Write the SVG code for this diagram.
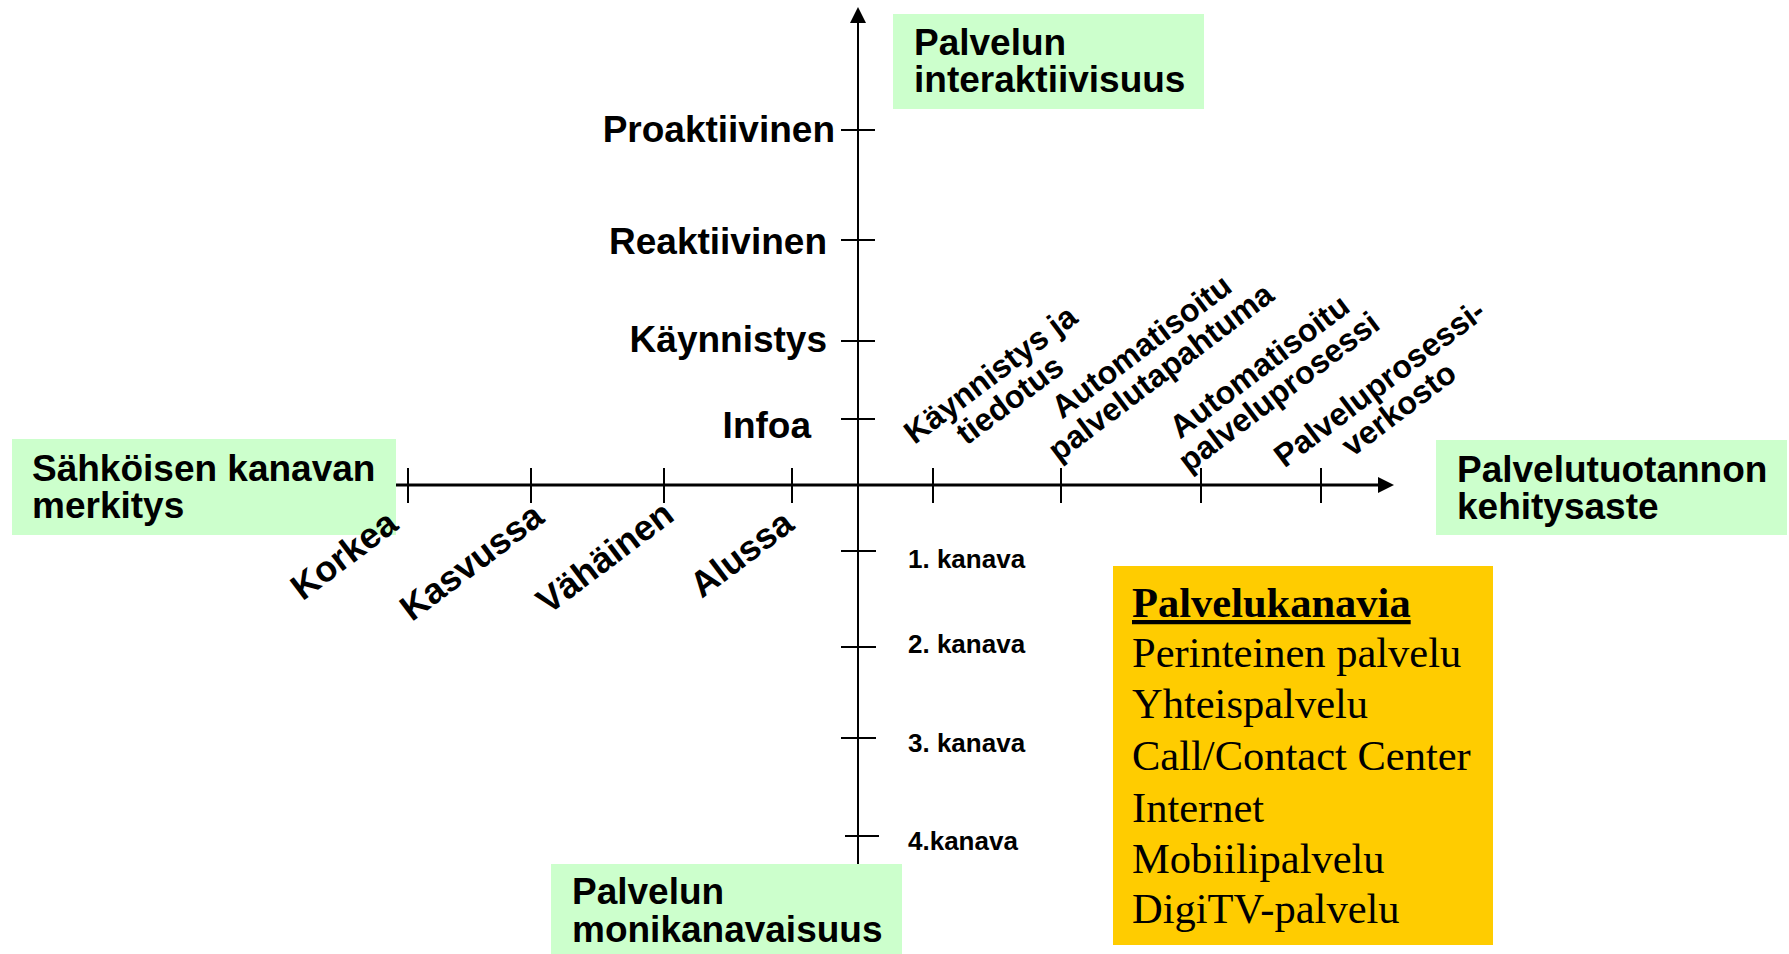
<svg xmlns="http://www.w3.org/2000/svg" width="1789" height="954" viewBox="0 0 1789 954">
<style>
.ax{stroke:#000;stroke-width:2;fill:none}
.hax{stroke:#000;stroke-width:3;fill:none}
.tk{stroke:#000;stroke-width:2}
.g{fill:#CCFFCC}
.y{fill:#FFCC00}
.b{font-family:"Liberation Sans",Arial,sans-serif;font-weight:bold;font-size:37px;fill:#000}
.r{font-family:"Liberation Sans",Arial,sans-serif;font-weight:bold;font-size:32px;fill:#000}
.k{font-family:"Liberation Sans",Arial,sans-serif;font-weight:bold;font-size:26px;fill:#000}
.t{font-family:"Liberation Serif","Times New Roman",serif;font-size:42.5px;fill:#000}
</style>
<defs>
<marker id="arr" viewBox="0 0 16 16" refX="0" refY="8" markerWidth="16" markerHeight="16" markerUnits="userSpaceOnUse" orient="auto">
<path d="M0,0 L16,8 L0,16 z" fill="#000"/>
</marker>
</defs>
<g id="connectors">
<line class="hax" x1="390" y1="485" x2="1378" y2="485" marker-end="url(#arr)"/>
<line class="ax" x1="858" y1="864" x2="858" y2="23" marker-end="url(#arr)"/>
<g id="ticks-x">
<line class="tk" x1="408" y1="468" x2="408" y2="503"/>
<line class="tk" x1="531" y1="468" x2="531" y2="503"/>
<line class="tk" x1="664" y1="468" x2="664" y2="503"/>
<line class="tk" x1="792" y1="468" x2="792" y2="503"/>
<line class="tk" x1="933" y1="468" x2="933" y2="503"/>
<line class="tk" x1="1061" y1="468" x2="1061" y2="503"/>
<line class="tk" x1="1201" y1="468" x2="1201" y2="503"/>
<line class="tk" x1="1321" y1="468" x2="1321" y2="503"/>
</g>
<g id="ticks-y">
<line class="tk" x1="841" y1="130" x2="875" y2="130"/>
<line class="tk" x1="841" y1="240" x2="875" y2="240"/>
<line class="tk" x1="841" y1="341" x2="875" y2="341"/>
<line class="tk" x1="841" y1="419" x2="875" y2="419"/>
<line class="tk" x1="841" y1="551" x2="876" y2="551"/>
<line class="tk" x1="841" y1="647" x2="876" y2="647"/>
<line class="tk" x1="841" y1="738" x2="876" y2="738"/>
<line class="tk" x1="845" y1="836" x2="879" y2="836"/>
</g>
</g>
<g id="node-interaktiivisuus">
<rect class="g" x="893" y="14" width="311" height="95"/>
<text class="b" x="914" y="55">Palvelun</text>
<text class="b" x="914" y="92">interaktiivisuus</text>
</g>
<g id="node-merkitys">
<rect class="g" x="12" y="439" width="384" height="96"/>
<text class="b" x="32" y="481">Sähköisen kanavan</text>
<text class="b" x="32" y="518">merkitys</text>
</g>
<g id="node-kehitysaste">
<rect class="g" x="1436" y="440" width="351" height="95"/>
<text class="b" x="1457" y="482">Palvelutuotannon</text>
<text class="b" x="1457" y="519">kehitysaste</text>
</g>
<g id="node-monikanavaisuus">
<rect class="g" x="551" y="864" width="351" height="90"/>
<text class="b" x="572" y="904">Palvelun</text>
<text class="b" x="572" y="942">monikanavaisuus</text>
</g>
<g id="labels-y">
<text class="b" x="835" y="142" text-anchor="end">Proaktiivinen</text>
<text class="b" x="827" y="254" text-anchor="end">Reaktiivinen</text>
<text class="b" x="827" y="352" text-anchor="end">Käynnistys</text>
<text class="b" x="811" y="438" text-anchor="end">Infoa</text>
</g>
<g id="labels-kanava">
<text class="k" x="908" y="568">1. kanava</text>
<text class="k" x="908" y="653">2. kanava</text>
<text class="k" x="908" y="752">3. kanava</text>
<text class="k" x="908" y="850">4.kanava</text>
</g>
<g id="labels-left">
<text class="b" style="font-size:36px" text-anchor="end" transform="translate(400,528) rotate(-37)">Korkea</text>
<text class="b" style="font-size:36px" text-anchor="end" transform="translate(546,521) rotate(-37)">Kasvussa</text>
<text class="b" style="font-size:36px" text-anchor="end" transform="translate(676,519) rotate(-37)">Vähäinen</text>
<text class="b" style="font-size:36px" text-anchor="end" transform="translate(796,528) rotate(-37)">Alussa</text>
</g>
<g id="labels-right">
<text class="r" text-anchor="middle" transform="translate(997,383) rotate(-37)"><tspan x="0" y="0">Käynnistys ja</tspan><tspan x="0" y="32">tiedotus</tspan></text>
<text class="r" text-anchor="middle" transform="translate(1148,355) rotate(-37)"><tspan x="0" y="0">Automatisoitu</tspan><tspan x="0" y="32">palvelutapahtuma</tspan></text>
<text class="r" text-anchor="middle" transform="translate(1266,375) rotate(-37)"><tspan x="0" y="0">Automatisoitu</tspan><tspan x="0" y="32">palveluprosessi</tspan></text>
<text class="r" text-anchor="middle" transform="translate(1386,392) rotate(-37)"><tspan x="0" y="0">Palveluprosessi-</tspan><tspan x="0" y="32">verkosto</tspan></text>
</g>
<g id="node-palvelukanavia">
<rect class="y" x="1113" y="566" width="380" height="379"/>
<text class="t" x="1132" y="617" font-weight="bold" text-decoration="underline">Palvelukanavia</text>
<text class="t" x="1132" y="667">Perinteinen palvelu</text>
<text class="t" x="1132" y="718">Yhteispalvelu</text>
<text class="t" x="1132" y="770">Call/Contact Center</text>
<text class="t" x="1132" y="822">Internet</text>
<text class="t" x="1132" y="873">Mobiilipalvelu</text>
<text class="t" x="1132" y="923">DigiTV-palvelu</text>
</g>
</svg>
